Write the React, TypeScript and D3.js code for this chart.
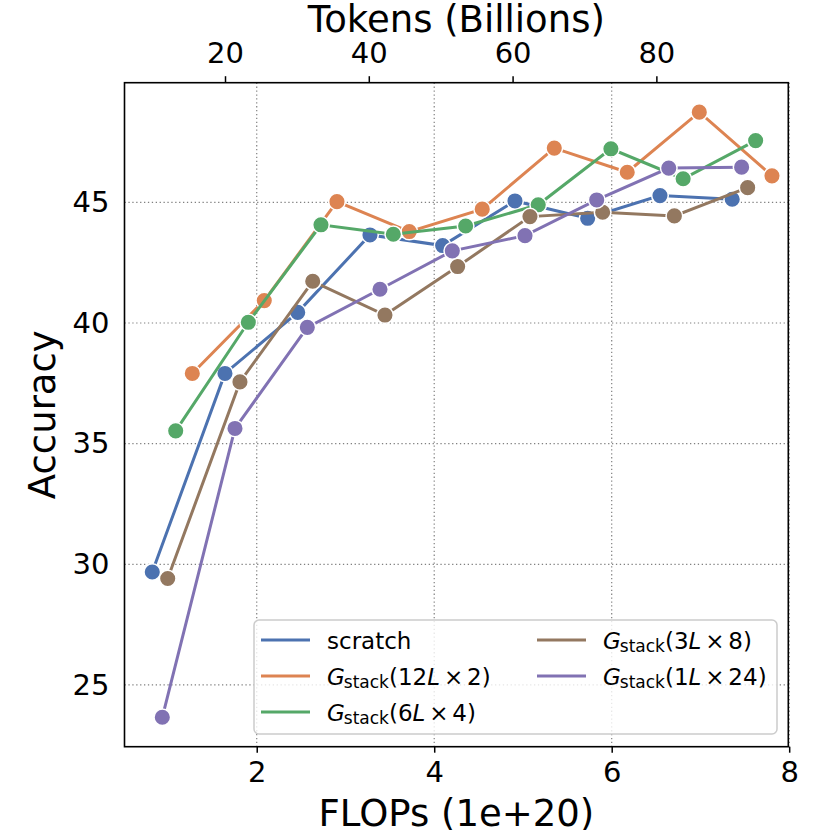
import { useEffect, useRef } from "react";
import * as d3 from "d3";

// FLOPs (1e+20) and accuracy
const scratchX = [0.823, 1.642, 2.462, 3.276, 4.095, 4.91, 5.729, 6.544, 7.358];
const scratchY = [29.68, 37.91, 40.44, 43.65, 43.21, 45.06, 44.34, 45.28, 45.13];

const stack12X = [1.274, 2.085, 2.904, 3.719, 4.541, 5.353, 6.175, 6.987, 7.806];
const stack12Y = [37.91, 40.93, 45.03, 43.79, 44.72, 47.25, 46.25, 48.74, 46.1];

const stack6X = [1.087, 1.905, 2.724, 3.539, 4.354, 5.172, 5.991, 6.805, 7.622];
const stack6Y = [35.53, 40.03, 44.07, 43.68, 44.02, 44.9, 47.22, 45.98, 47.56];

const stack3X = [0.997, 1.811, 2.631, 3.445, 4.264, 5.079, 5.898, 6.706, 7.532];
const stack3Y = [29.41, 37.56, 41.73, 40.33, 42.34, 44.41, 44.59, 44.44, 45.61];

const stack1X = [0.936, 1.755, 2.57, 3.389, 4.204, 5.023, 5.831, 6.643, 7.464];
const stack1Y = [23.66, 35.63, 39.82, 41.4, 42.99, 43.62, 45.1, 46.42, 46.46];

const flopTicks = [2, 4, 6, 8];
const tokenTicks = [20, 40, 60, 80];
const accTicks = [25, 30, 35, 40, 45];

interface Series {
  key: string;
  xs: number[];
  ys: number[];
  color: string;
  base: string | null; // null = plain label
  sub: string;
  mult: string;
}

const series: Series[] = [
  { key: "scratch", xs: scratchX, ys: scratchY, color: "#4c72b0", base: null, sub: "", mult: "" },
  { key: "s12", xs: stack12X, ys: stack12Y, color: "#dd8452", base: "12", sub: "stack", mult: "2" },
  { key: "s6", xs: stack6X, ys: stack6Y, color: "#55a868", base: "6", sub: "stack", mult: "4" },
  { key: "s3", xs: stack3X, ys: stack3Y, color: "#937860", base: "3", sub: "stack", mult: "8" },
  { key: "s1", xs: stack1X, ys: stack1Y, color: "#8172b3", base: "1", sub: "stack", mult: "24" },
];

const FONT = "DejaVu Sans, sans-serif";

export default function App() {
  const svgRef = useRef<SVGSVGElement>(null);

  useEffect(() => {
    if (!svgRef.current) return;
    const svg = d3.select(svgRef.current);
    svg.selectAll("*").remove();

    const left = 124.5;
    const right = 788.3;
    const top = 82.7;
    const bottom = 746.7;

    const x = d3.scaleLinear().domain([0.51, 7.99]).range([left, right]);
    const xTop = d3.scaleLinear().domain([6.02, 98.35]).range([left, right]);
    const y = d3.scaleLinear().domain([22.44, 49.96]).range([bottom, top]);

    svg.append("rect").attr("width", 830).attr("height", 830).attr("fill", "white");

    // Grid
    const grid = svg.append("g");
    flopTicks.forEach((t) => {
      grid
        .append("line")
        .attr("x1", x(t))
        .attr("x2", x(t))
        .attr("y1", top)
        .attr("y2", bottom)
        .attr("stroke", "#808080")
        .attr("stroke-width", 1.2)
        .attr("stroke-dasharray", "1.3,2.6");
    });
    accTicks.forEach((t) => {
      grid
        .append("line")
        .attr("x1", left)
        .attr("x2", right)
        .attr("y1", y(t))
        .attr("y2", y(t))
        .attr("stroke", "#808080")
        .attr("stroke-width", 1.2)
        .attr("stroke-dasharray", "1.3,2.6");
    });

    // Lines + markers
    series.forEach((s) => {
      const pts = s.xs.map((v, i) => [v, s.ys[i]] as [number, number]);
      const line = d3
        .line<[number, number]>()
        .x((d) => x(d[0]))
        .y((d) => y(d[1]));
      const g = svg.append("g");
      g.append("path")
        .datum(pts)
        .attr("fill", "none")
        .attr("stroke", s.color)
        .attr("stroke-width", 3)
        .attr("d", line);
      g.selectAll("circle")
        .data(pts)
        .enter()
        .append("circle")
        .attr("cx", (d) => x(d[0]))
        .attr("cy", (d) => y(d[1]))
        .attr("r", 8.3)
        .attr("fill", s.color)
        .attr("stroke", "white")
        .attr("stroke-width", 1.5);
    });

    // Legend
    const lg = svg.append("g").attr("font-family", FONT).attr("font-size", 23);
    lg.append("rect")
      .attr("x", 254)
      .attr("y", 620)
      .attr("width", 523)
      .attr("height", 114)
      .attr("rx", 5)
      .attr("fill", "white")
      .attr("fill-opacity", 0.8)
      .attr("stroke", "#cccccc")
      .attr("stroke-width", 1.5);

    const slots = [
      [261, 640],
      [261, 676],
      [261, 712],
      [537, 640],
      [537, 676],
    ];
    series.forEach((s, i) => {
      const [lx, ly] = slots[i];
      lg.append("line")
        .attr("x1", lx)
        .attr("x2", lx + 49)
        .attr("y1", ly)
        .attr("y2", ly)
        .attr("stroke", s.color)
        .attr("stroke-width", 3);
      const t = lg.append("text").attr("x", lx + 66).attr("y", ly + 8.7).attr("fill", "black");
      if (s.base === null) {
        t.text("scratch");
      } else {
        t.append("tspan").attr("font-style", "italic").text("G");
        t.append("tspan").attr("font-size", 17).attr("dy", 3).attr("dx", -1).text(s.sub);
        t.append("tspan").attr("dy", -3).text("(" + s.base);
        t.append("tspan").attr("font-style", "italic").text("L");
        t.append("tspan").text("\u2006×\u2006" + s.mult + ")");
      }
    });

    // Frame
    svg.append("rect")
      .attr("x", left)
      .attr("y", top)
      .attr("width", right - left)
      .attr("height", bottom - top)
      .attr("fill", "none")
      .attr("stroke", "black")
      .attr("stroke-width", 1.6);

    // Axes
    const styleAxis = (sel: d3.Selection<SVGGElement, unknown, null, undefined>) => {
      sel.select(".domain").remove();
      sel.selectAll("text").attr("font-family", FONT).attr("font-size", 29).attr("fill", "black");
      sel.selectAll("line").attr("stroke", "black").attr("stroke-width", 1.5);
    };

    svg.append("g")
      .attr("transform", `translate(0,${bottom})`)
      .call(d3.axisBottom(x).tickValues(flopTicks).tickSize(6).tickPadding(9).tickFormat(d3.format("d")))
      .call(styleAxis);

    svg.append("g")
      .attr("transform", `translate(0,${top})`)
      .call(d3.axisTop(xTop).tickValues(tokenTicks).tickSize(6.5).tickPadding(13).tickFormat(d3.format("d")))
      .call(styleAxis);

    svg.append("g")
      .attr("transform", `translate(${left},0)`)
      .call(d3.axisLeft(y).tickValues(accTicks).tickSize(0).tickPadding(15).tickFormat(d3.format("d")))
      .call(styleAxis);

    // Axis titles
    svg.append("text")
      .attr("x", (left + right) / 2)
      .attr("y", 825.5)
      .attr("text-anchor", "middle")
      .attr("font-family", FONT)
      .attr("font-size", 37)
      .text("FLOPs (1e+20)");

    svg.append("text")
      .attr("x", (left + right) / 2)
      .attr("y", 31.7)
      .attr("text-anchor", "middle")
      .attr("font-family", FONT)
      .attr("font-size", 37)
      .text("Tokens (Billions)");

    svg.append("text")
      .attr("transform", `translate(55,${(top + bottom) / 2}) rotate(-90)`)
      .attr("text-anchor", "middle")
      .attr("font-family", FONT)
      .attr("font-size", 37)
      .text("Accuracy");
  }, []);

  return (
    <svg
      ref={svgRef}
      width={830}
      height={830}
      style={{ position: "absolute", left: 0, top: 0, display: "block" }}
    />
  );
}
